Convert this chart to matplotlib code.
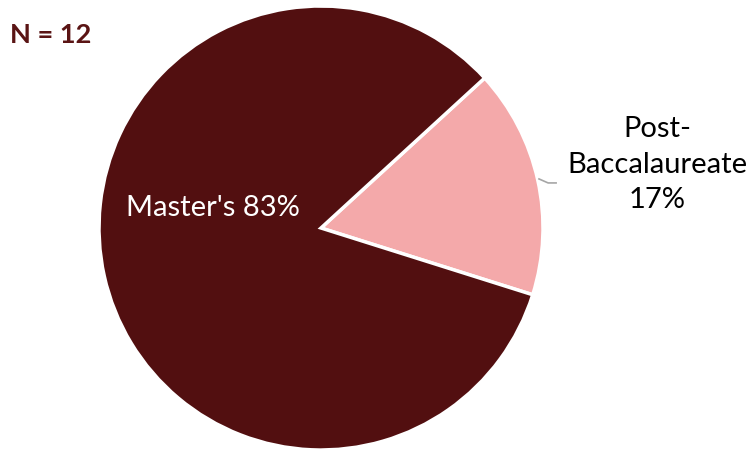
import matplotlib.pyplot as plt

# Dữ liệu
labels = ["Post-\nBaccalaureate", "Master's"]
values = [2, 10]
colors = ['#F4A9AA', '#520F10']
n_total = 12

plt.rcParams['font.family'] = ['Lato', 'DejaVu Sans']

fig = plt.figure(figsize=(7.49, 4.52), dpi=100)
ax = fig.add_axes([0, 0, 1, 1])

wedges, _ = ax.pie(values, colors=colors, startangle=-17.5, counterclock=True,
                   radius=1.0, wedgeprops=dict(edgecolor='white', linewidth=2.5))

# tâm (321, 229) px, bán kính 222 px
R = 222.0
ax.set_xlim(-321 / R, (749 - 321) / R)
ax.set_ylim(-(452 - 229) / R, 229 / R)
ax.set_aspect('auto')
ax.axis('off')

pct = [round(v / sum(values) * 100) for v in values]

ax.text(-0.486, 0.095, f"{labels[1]} {pct[1]}%", color='white', fontsize=21,
        ha='center', va='center')
ax.text(1.514, 0.290, f"{labels[0]}\n{pct[0]}%", color='black', fontsize=21,
        ha='center', va='center', linespacing=1.45)

# đường dẫn nhãn
ax.plot([0.982, 1.023, 1.059], [0.221, 0.203, 0.203], color='#A6A6A6', lw=1.2)

fig.text(10 / 749, 1 - 35 / 452, f"N = {n_total}", color='#5A1414', fontsize=19.5,
         fontweight='bold', ha='left', va='center')

fig.savefig('out.png', dpi=100)
